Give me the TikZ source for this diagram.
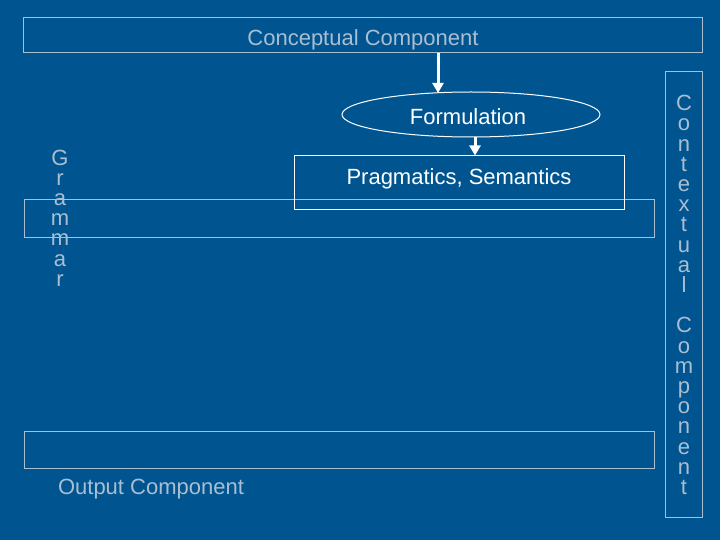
\documentclass[tikz,border=0pt]{standalone}
\usepackage{fontspec}
\setmainfont{Liberation Sans}
\usetikzlibrary{shapes.geometric,arrows.meta}
\definecolor{bgblue}{RGB}{0,85,145}
\definecolor{softgray}{RGB}{170,190,210}
\begin{document}
\begin{tikzpicture}[x=1pt,y=-1pt,
  graytext/.style={text=softgray,font=\fontsize{22}{20.2}\selectfont,inner sep=0pt},
  whitetext/.style={text=white,font=\fontsize{22}{26}\selectfont,inner sep=0pt},
  flowarrow/.style={draw=white,line width=3pt,-{Triangle[width=11pt,length=10pt]}},
  vertword/.style={graytext,align=center}]
\fill[bgblue] (0,0) rectangle (720,540);
\useasboundingbox (0,0) rectangle (720,540);

\node[draw=softgray,line width=1pt,minimum width=679pt,minimum height=35pt,inner sep=0pt] (concept) at (362.5,35.5) {};
\node[graytext] (concepttext) at (363,40) {Conceptual Component};

\node[draw=softgray,line width=1pt,minimum width=630pt,minimum height=37pt,inner sep=0pt] (grammar) at (339,218.5) {};
\node[draw=softgray,line width=1pt,minimum width=630pt,minimum height=37pt,inner sep=0pt] (output) at (339,449.5) {};
\node[graytext] (outputtext) at (151,489) {Output Component};

\node[draw=softgray,line width=1pt,minimum width=37pt,minimum height=445pt,inner sep=0pt] (context) at (683.5,294.5) {};
\node[vertword] (contexttext) at (684,295) {C\\o\\n\\t\\e\\x\\t\\u\\a\\l\\ \\C\\o\\m\\p\\o\\n\\e\\n\\t};

\node[vertword] (grammartext) at (60,218) {G\\r\\a\\m\\m\\a\\r};

\node[draw=white,line width=1pt,ellipse,minimum width=258pt,minimum height=45pt,inner sep=0pt] (form) at (471,114.5) {};
\node[whitetext] (formtext) at (468,117) {Formulation};

\node[draw=white,line width=1pt,minimum width=330pt,minimum height=54pt,inner sep=0pt] (prag) at (459,183) {};
\node[whitetext] (pragtext) at (459,179) {Pragmatics, Semantics};

\coordinate (a1s) at (concept.south -| 438,0);
\coordinate (a1e) at (438,93);
\draw[flowarrow] (a1s) -- (a1e);
\coordinate (a2s) at (475,137);
\coordinate (a2e) at (prag.north -| 475,0);
\draw[flowarrow] (a2s) -- (a2e);
\end{tikzpicture}
\end{document}
